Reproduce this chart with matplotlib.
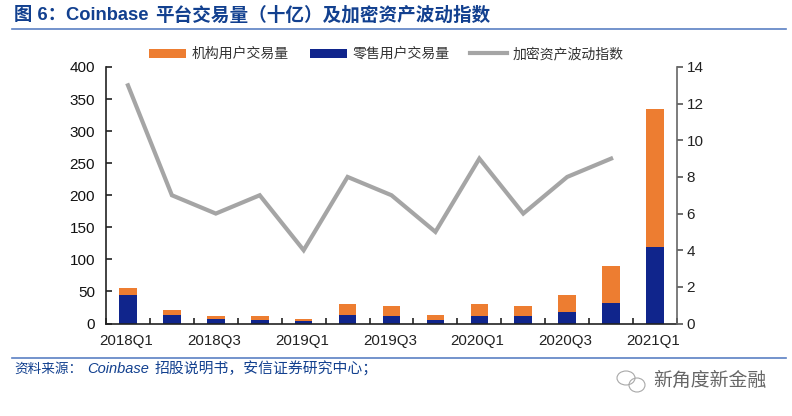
import numpy as np
import matplotlib.pyplot as plt
from matplotlib.patches import Ellipse

plt.rcParams['font.family'] = ['Liberation Sans', 'Noto Sans CJK SC', 'DejaVu Sans']

quarters = ['2018Q1', '2018Q2', '2018Q3', '2018Q4', '2019Q1', '2019Q2', '2019Q3',
            '2019Q4', '2020Q1', '2020Q2', '2020Q3', '2020Q4', '2021Q1']
retail = [45, 14, 7, 6, 4, 14, 11, 5, 12, 11, 18, 32, 119]
institutional = [10, 7, 5, 5, 3, 17, 16, 9, 18, 17, 27, 57, 216]
volatility = [13, 7, 6, 7, 4, 8, 7, 5, 9, 6, 8, 9, np.nan]

W, H = 792, 416
BLUE = '#12408f'
RULE = '#5b80c4'

fig = plt.figure(figsize=(W / 100, H / 100), dpi=100)
ax = fig.add_axes([106 / W, 1 - 323.5 / H, 571 / W, 256.5 / H])
x = np.arange(len(quarters))

b1 = ax.bar(x, institutional, 0.4, bottom=retail, color='#ed7d31', label='机构用户交易量')
b2 = ax.bar(x, retail, 0.4, color='#10258c', label='零售用户交易量')
ax.set_xlim(-0.5, 12.5)
ax.set_ylim(0, 400)
ax.set_yticks(range(0, 401, 50))
ax.set_xticks(np.arange(-0.5, 13, 1))
ax.set_xticklabels([])
ax.tick_params(axis='x', direction='in', length=4, width=1.2, color='#222222')
ax.tick_params(axis='y', direction='in', length=4, width=1.2, color='#222222',
               labelsize=11, pad=8, labelcolor='#111111')
for i in range(0, len(quarters), 2):
    ax.text(x[i] - 0.04, -27, quarters[i], ha='center', va='center', fontsize=10.9, color='#222222')
for s in ['top', 'right']:
    ax.spines[s].set_visible(False)
for s in ['left', 'bottom']:
    ax.spines[s].set_linewidth(1.2)
    ax.spines[s].set_color('#222222')

ax2 = ax.twinx()
l1, = ax2.plot(x, volatility, color='#a5a5a5', lw=3, solid_joinstyle='miter', label='加密资产波动指数')
ax2.set_ylim(0, 14)
ax2.set_yticks(range(0, 15, 2))
ax2.tick_params(axis='y', direction='out', length=4, width=1.2, color='#555555',
                labelsize=11, pad=3, labelcolor='#222222')
for s in ['top', 'left', 'bottom']:
    ax2.spines[s].set_visible(False)
ax2.spines['right'].set_color('#666666')
ax2.spines['right'].set_linewidth(1.2)

fig.legend(handles=[b1, b2, l1], ncol=3, frameon=False, fontsize=10, labelcolor='#333333',
           loc='center left', bbox_to_anchor=(138 / W, 1 - 54 / H), handlelength=2.67,
           handleheight=0.6, handletextpad=0.4, columnspacing=1.5, borderpad=0.3)

# title, rules, source
fig.text(14 / W, 1 - 15 / H, '图 6：Coinbase', fontsize=13.2, fontweight='bold', color=BLUE, va='center')
fig.text(155 / W, 1 - 15 / H, '平台交易量（十亿）及加密资产波动指数',
         fontsize=13.4, fontweight='bold', color=BLUE, va='center')
fig.add_artist(plt.Line2D([12 / W, 786 / W], [1 - 28.5 / H] * 2, color=RULE, lw=1.2))
fig.add_artist(plt.Line2D([12 / W, 786 / W], [1 - 357.5 / H] * 2, color=RULE, lw=1.2))
fig.text(14 / W, 1 - 369 / H, '资料来源：', fontsize=9.8, style='italic', color=BLUE, va='center')
fig.text(87 / W, 1 - 369 / H, 'Coinbase', fontsize=10.5, style='italic', color=BLUE, va='center')
fig.text(155 / W, 1 - 369 / H, '招股说明书，安信证券研究中心；',
         fontsize=10.7, style='italic', color=BLUE, va='center')

# watermark
fig.text(653 / W, 1 - 381 / H, '新角度新金融', fontsize=13.6, color='#666666', va='center')
for cx, cy, w, h in [(626, 378, 18, 14), (637, 385, 16, 14)]:
    fig.add_artist(Ellipse((cx / W, 1 - cy / H), w / W, h / H, fill=False, ec='#a8a8a8', lw=0.8,
                           transform=fig.transFigure))

fig.savefig('out.png', dpi=100)
